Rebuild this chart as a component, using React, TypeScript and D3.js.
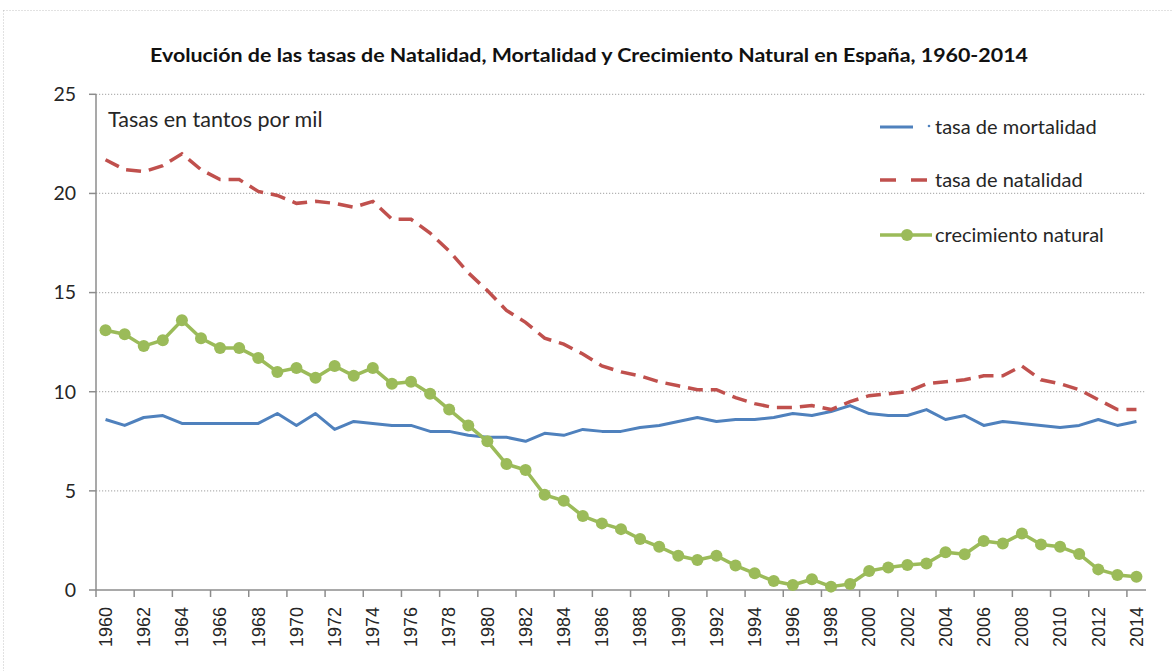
import * as d3 from "d3";

const years = d3.range(1960, 2015).map(String);

const mortalidad = [
  8.6, 8.3, 8.7, 8.8, 8.4, 8.4, 8.4, 8.4, 8.4, 8.9,
  8.3, 8.9, 8.1, 8.5, 8.4, 8.3, 8.3, 8.0, 8.0, 7.8,
  7.7, 7.7, 7.5, 7.9, 7.8, 8.1, 8.0, 8.0, 8.2, 8.3,
  8.5, 8.7, 8.5, 8.6, 8.6, 8.7, 8.9, 8.8, 9.0, 9.3,
  8.9, 8.8, 8.8, 9.1, 8.6, 8.8, 8.3, 8.5, 8.4, 8.3,
  8.2, 8.3, 8.6, 8.3, 8.5,
];

const natalidad = [
  21.7, 21.2, 21.1, 21.4, 22.0, 21.2, 20.7, 20.7, 20.1, 19.9,
  19.5, 19.6, 19.5, 19.3, 19.6, 18.7, 18.7, 18.0, 17.1, 16.0,
  15.1, 14.1, 13.5, 12.7, 12.4, 11.9, 11.3, 11.0, 10.8, 10.5,
  10.3, 10.1, 10.1, 9.7, 9.4, 9.2, 9.2, 9.3, 9.1, 9.5,
  9.8, 9.9, 10.0, 10.4, 10.5, 10.6, 10.8, 10.8, 11.3, 10.6,
  10.4, 10.1, 9.6, 9.1, 9.1,
];

const crecimiento = [
  13.1, 12.9, 12.3, 12.6, 13.6, 12.7, 12.2, 12.2, 11.7, 11.0,
  11.2, 10.7, 11.3, 10.8, 11.2, 10.4, 10.5, 9.9, 9.1, 8.3,
  7.5, 6.35, 6.05, 4.8, 4.5, 3.73, 3.36, 3.07, 2.57, 2.18,
  1.73, 1.51, 1.73, 1.23, 0.84, 0.45, 0.25, 0.54, 0.17, 0.3,
  0.96, 1.14, 1.26, 1.34, 1.9, 1.8, 2.47, 2.35, 2.85, 2.3,
  2.18, 1.81, 1.04, 0.76, 0.67,
];

const yTicks = [0, 5, 10, 15, 20, 25];

const titulo =
  "Evolución de las tasas de Natalidad, Mortalidad y Crecimiento Natural en España, 1960-2014";

const BLUE = "#4f81bd";
const RED = "#c0504d";
const GREEN = "#9bbb59";
const FONT = "Lato, 'Open Sans', sans-serif";

export default function App() {
  const left = 96;
  const right = 1146;
  const top = 94.3;
  const bottom = 590;

  const x = d3.scaleBand().domain(years).range([left, right]);
  const y = d3.scaleLinear().domain([0, 25]).range([bottom, top]);
  const cx = (i: number) => (x(years[i]) as number) + x.bandwidth() / 2;

  const line = d3
    .line<number>()
    .x((_, i) => cx(i))
    .y((d) => y(d));

  const tickYears = years.filter((_, i) => i % 2 === 0);

  return (
    <svg
      width={1173}
      height={671}
      style={{ position: "absolute", left: 0, top: 0, background: "#fff" }}
    >
      <rect
        x={3.5}
        y={10.5}
        width={1250}
        height={720}
        fill="none"
        stroke="#c4c4c4"
        strokeDasharray="1 2"
      />
      <text
        x={589}
        y={62}
        textAnchor="middle"
        fontFamily={FONT}
        fontWeight="bold"
        fontSize={19}
        textLength={878}
        lengthAdjust="spacingAndGlyphs"
        fill="#111"
      >
        {titulo}
      </text>

      {/* grid */}
      {yTicks
        .filter((t) => t > 0)
        .map((t) => (
          <line
            key={t}
            x1={left}
            x2={right}
            y1={y(t)}
            y2={y(t)}
            stroke="#b3b3b3"
            strokeWidth={1.2}
            strokeDasharray="1.2 1.8"
          />
        ))}

      {/* y axis */}
      <line x1={left} x2={left} y1={top} y2={bottom} stroke="#8c8c8c" strokeWidth={1.5} />
      {yTicks.map((t) => (
        <g key={t}>
          <line x1={left - 7} x2={left} y1={y(t)} y2={y(t)} stroke="#8c8c8c" strokeWidth={1.5} />
          <text
            x={76}
            y={y(t)}
            dy="0.35em"
            textAnchor="end"
            fontFamily={FONT}
            fontSize={19.5}
            fill="#262626"
          >
            {t}
          </text>
        </g>
      ))}

      {/* x axis */}
      <line x1={left} x2={right} y1={bottom} y2={bottom} stroke="#8c8c8c" strokeWidth={1.5} />
      {tickYears.map((yr) => {
        const bx = x(yr) as number;
        const mx = bx + x.bandwidth() / 2;
        return (
          <g key={yr}>
            <line x1={bx} x2={bx} y1={bottom} y2={bottom + 7} stroke="#8c8c8c" strokeWidth={1.5} />
            <text
              transform={`translate(${mx},607) rotate(-90)`}
              dy="0.35em"
              textAnchor="end"
              fontFamily="'Liberation Sans', Arial, sans-serif"
              fontSize={18}
              fill="#262626"
            >
              {yr}
            </text>
          </g>
        );
      })}

      <text x={108} y={127} fontFamily={FONT} fontSize={21.5} fill="#262626">
        Tasas en tantos por mil
      </text>

      {/* series */}
      <path d={line(mortalidad) ?? ""} fill="none" stroke={BLUE} strokeWidth={3} strokeLinejoin="round" />
      <path
        d={line(natalidad) ?? ""}
        fill="none"
        stroke={RED}
        strokeWidth={3.5}
        strokeDasharray="15 8"
      />
      <path d={line(crecimiento) ?? ""} fill="none" stroke={GREEN} strokeWidth={3.5} strokeLinejoin="round" />
      {crecimiento.map((v, i) => (
        <circle key={i} cx={cx(i)} cy={y(v)} r={6} fill={GREEN} />
      ))}

      {/* legend */}
      <line x1={880} x2={913} y1={127} y2={127} stroke={BLUE} strokeWidth={3} />
      <circle cx={929} cy={126} r={1.3} fill={BLUE} />
      <text x={935} y={134} fontFamily={FONT} fontSize={20} fill="#262626">
        tasa de mortalidad
      </text>
      <line x1={880} x2={927} y1={180} y2={180} stroke={RED} strokeWidth={3.5} strokeDasharray="16 15" />
      <text x={935} y={187} fontFamily={FONT} fontSize={20} fill="#262626">
        tasa de natalidad
      </text>
      <line x1={880} x2={932} y1={235} y2={235} stroke={GREEN} strokeWidth={3.5} />
      <circle cx={907} cy={235} r={6} fill={GREEN} />
      <text x={935} y={242} fontFamily={FONT} fontSize={20} fill="#262626">
        crecimiento natural
      </text>
    </svg>
  );
}
